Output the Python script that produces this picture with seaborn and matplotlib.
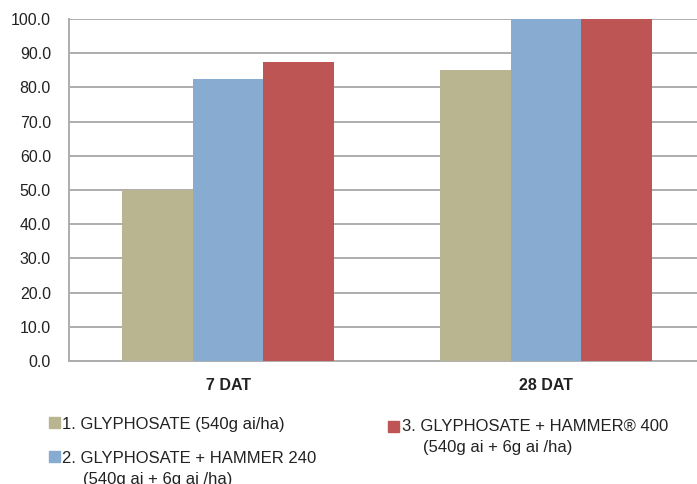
import pandas as pd
import seaborn as sns
import matplotlib.pyplot as plt
from matplotlib.patches import Rectangle

# data
timings = ["7 DAT", "28 DAT"]
treatments = ["1. GLYPHOSATE (540g ai/ha)",
              "2. GLYPHOSATE + HAMMER 240 (540g ai + 6g ai /ha)",
              "3. GLYPHOSATE + HAMMER® 400 (540g ai + 6g ai /ha)"]
glyphosate = [50.0, 85.0]
hammer240 = [82.5, 100.0]
hammer400 = [87.5, 100.0]
yticks = [0, 10, 20, 30, 40, 50, 60, 70, 80, 90, 100]

colors = ["#B9B591", "#88ABD2", "#BE5555"]

df = pd.DataFrame({
    "timing": timings * 3,
    "treatment": [treatments[0]] * 2 + [treatments[1]] * 2 + [treatments[2]] * 2,
    "control": glyphosate + hammer240 + hammer400,
})

sns.set_style("white")
plt.rcParams["font.family"] = ["Liberation Sans", "DejaVu Sans"]

fig = plt.figure(figsize=(6.97, 4.84), dpi=100)
ax = fig.add_axes([69 / 697, 1 - 361 / 484, 636 / 697, 342 / 484])

sns.barplot(data=df, x="timing", y="control", hue="treatment", palette=colors,
            width=0.667, gap=0, saturation=1, legend=False, ax=ax,
            linewidth=0, edgecolor="none", zorder=3)

grid_c = "#ADADAD"
ax.set_ylim(0, 100)
ax.set_xlim(-0.5, 1.5)
ax.set_yticks(yticks)
ax.set_yticklabels([f"{v:.1f}" for v in yticks], fontsize=11.5, color="#222222")
ax.yaxis.grid(True, color=grid_c, linewidth=1.4, zorder=0)
ax.set_axisbelow(True)
ax.tick_params(axis="y", length=7, width=1.2, color=grid_c, pad=6)

ax.set_xticks([0, 1])
ax.set_xticklabels(timings, fontsize=11.5, fontweight="bold", color="#222222")
ax.set_xticks([-0.5, 0.5, 1.5], minor=True)
ax.tick_params(axis="x", which="major", length=0, pad=12)
ax.tick_params(axis="x", which="minor", length=9, width=1.2, color=grid_c)

ax.set_xlabel("")
ax.set_ylabel("")
for s in ["top", "right"]:
    ax.spines[s].set_visible(False)
for s in ["left", "bottom"]:
    ax.spines[s].set_color(grid_c)
    ax.spines[s].set_linewidth(1.4)

# legend drawn below the plot, laid out like the original
W, H = 697, 484
items = [
    (49, 417, 62, [(429, "1. GLYPHOSATE (540g ai/ha)")]),
    (49, 451, 62, [(463, "2. GLYPHOSATE + HAMMER 240"), (484, "(540g ai + 6g ai /ha)")]),
    (388, 421, 402, [(431, "3. GLYPHOSATE + HAMMER® 400"), (452, "(540g ai + 6g ai /ha)")]),
]
for (sx, sy, tx, lines), c in zip(items, colors):
    fig.patches.append(Rectangle((sx / W, 1 - (sy + 11) / H), 11 / W, 11 / H,
                                 transform=fig.transFigure, color=c))
    for k, (by, txt) in enumerate(lines):
        fig.text((tx if k == 0 else tx + 21) / W, 1 - by / H, txt, fontsize=12,
                 va="baseline", ha="left", color="#222222")

fig.savefig("out.png", dpi=100)
